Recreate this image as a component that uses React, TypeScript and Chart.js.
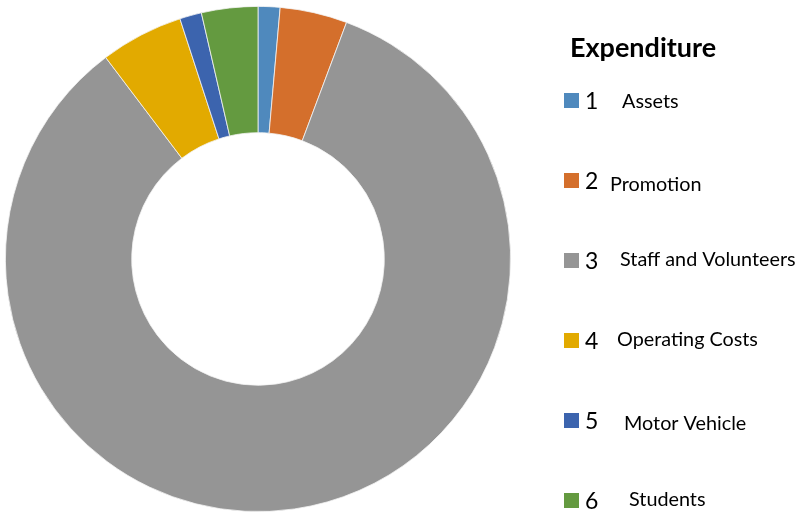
import React, { useEffect, useRef } from "react";
import { Chart, registerables } from "chart.js";

Chart.register(...registerables);

const categories = ["Assets", "Promotion", "Staff and Volunteers", "Operating Costs", "Motor Vehicle", "Students"];
const itemNumbers = ["1", "2", "3", "4", "5", "6"];
const values = [1.4, 4.3, 84.0, 5.3, 1.4, 3.6];
const colors = ["#4F89BD", "#D46F2C", "#959595", "#E2AA00", "#3C64AE", "#649A40"];
const legendTitle = "Expenditure";

// layout (not data)
const labelX = [622, 610, 620, 617, 624, 629];
const labelBaselineDy = [0, 3, -2, -2, 2, -2];

const legendPlugin = {
  id: "customLegend",
  afterDraw(chart: any) {
    const ctx = chart.ctx;
    ctx.save();
    ctx.fillStyle = "#000";
    ctx.textBaseline = "alphabetic";
    ctx.font = "bold 27px Lato";
    ctx.fillText(legendTitle, 570, 57);
    for (let i = 0; i < categories.length; i++) {
      const top = 93 + i * 80;
      ctx.fillStyle = colors[i];
      ctx.fillRect(564, top, 15, 15);
      ctx.fillStyle = "#000";
      ctx.font = "23px Lato";
      ctx.fillText(itemNumbers[i], 585, top + 15.5);
      ctx.font = "19.8px Lato";
      ctx.fillText(categories[i], labelX[i], top + 15 + labelBaselineDy[i]);
    }
    ctx.restore();
  },
};

export default function App() {
  const ref = useRef<HTMLCanvasElement>(null);
  useEffect(() => {
    document.body.style.margin = "0";
    const chart = new Chart(ref.current!, {
      type: "doughnut",
      data: {
        labels: categories,
        datasets: [
          {
            data: values,
            backgroundColor: colors,
            borderColor: "#f4f4f4",
            borderWidth: 0.8,
          },
        ],
      },
      options: {
        animation: false,
        responsive: false,
        cutout: "50%",
        layout: { padding: { left: 4, top: 6, right: 286, bottom: 0 } },
        plugins: { legend: { display: false }, tooltip: { enabled: false } },
      },
      plugins: [legendPlugin],
    });
    return () => chart.destroy();
  }, []);
  return (
    <div style={{ width: 798, height: 512, background: "#fff" }}>
      <canvas ref={ref} width={798} height={512} />
    </div>
  );
}
